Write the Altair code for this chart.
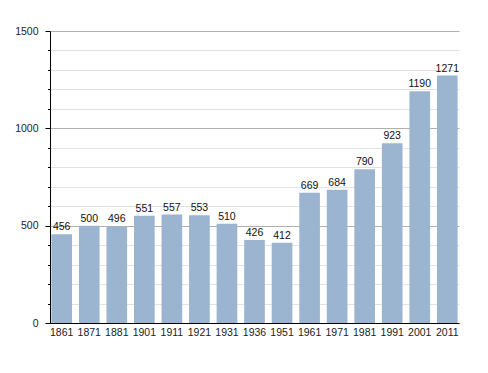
import altair as alt
import pandas as pd

years = ["1861", "1871", "1881", "1901", "1911", "1921", "1931", "1936",
         "1951", "1961", "1971", "1981", "1991", "2001", "2011"]
population = [456, 500, 496, 551, 557, 553, 510, 426, 412, 669, 684, 790, 923, 1190, 1271]
y_ticks = list(range(0, 1600, 100))

df = pd.DataFrame({"year": years, "pop": population})

base = alt.Chart(df).encode(
    x=alt.X("year:N", sort=years,
            scale=alt.Scale(paddingInner=0.25, paddingOuter=0.05),
            axis=alt.Axis(title=None, labelAngle=0, ticks=False, domainColor="#000",
                          labelFont="Liberation Sans", labelFontSize=10.5, labelColor="#222",
                          labelPadding=4)),
    y=alt.Y("pop:Q", scale=alt.Scale(domain=[0, 1500], nice=False),
            axis=alt.Axis(title=None, values=y_ticks, domainColor="#000", format="d",
                          tickColor="#000",
                          tickSize=alt.condition("datum.value % 500 === 0", alt.value(5), alt.value(2.5)),
                          gridColor=alt.condition("datum.value % 500 === 0", alt.value("#b0b0b0"), alt.value("#e2e2e2")),
                          labelExpr="datum.value % 500 === 0 ? datum.label : ''",
                          labelFont="Liberation Sans", labelFontSize=10.5, labelColor="#222",
                          labelPadding=7)),
)

bars = base.mark_bar(color="#9bb4d0")
labels = base.mark_text(baseline="bottom", dy=-2, font="Liberation Sans", fontSize=10.5,
                        color="#111").encode(text="pop:Q")

chart = (bars + labels).properties(
    width=409, height=292,
    autosize=alt.AutoSizeParams(type="none"),
    padding={"left": 42, "top": 23, "right": 20, "bottom": 40},
).configure_view(stroke=None).configure_axis(labelFlush=False)

chart.save("out.html", embed_options={"renderer": "svg", "actions": False})
